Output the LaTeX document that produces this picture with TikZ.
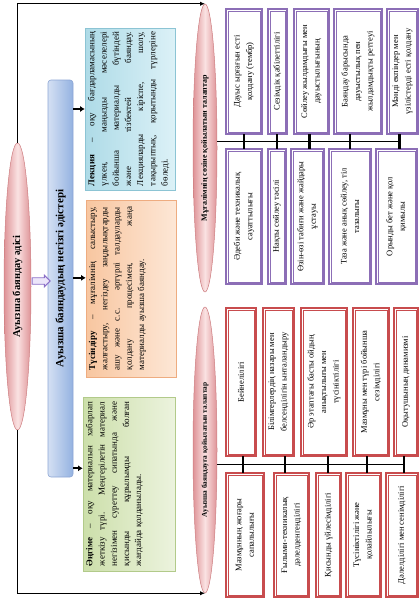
\documentclass[tikz,border=0pt]{standalone}
\usepackage{fontspec}
\usepackage{graphicx}
\setmainfont{Liberation Serif}
\usetikzlibrary{shapes.geometric,shapes.arrows,arrows.meta,calc}
\hyphenpenalty=10000
\exhyphenpenalty=10000
\definecolor{pinkD}{RGB}{222,146,150}
\definecolor{pinkL}{RGB}{250,226,226}
\definecolor{pinkB}{RGB}{205,125,128}
\definecolor{blueL}{RGB}{212,224,243}
\definecolor{blueD}{RGB}{148,178,225}
\definecolor{blueB}{RGB}{140,165,212}
\definecolor{cyanL}{RGB}{220,241,247}
\definecolor{cyanD}{RGB}{174,219,231}
\definecolor{cyanB}{RGB}{140,196,212}
\definecolor{peachL}{RGB}{253,231,214}
\definecolor{peachD}{RGB}{248,198,160}
\definecolor{peachB}{RGB}{238,172,128}
\definecolor{greenL}{RGB}{236,243,222}
\definecolor{greenD}{RGB}{204,223,170}
\definecolor{greenB}{RGB}{178,202,138}
\definecolor{pcol}{RGB}{140,110,182}
\definecolor{rcol}{RGB}{200,76,78}
\definecolor{arrB}{RGB}{140,112,200}
\definecolor{arrF}{RGB}{236,230,250}

% grid box: style, name, x1, y1, x2, y2, text (page pixel coordinates)
\newcommand{\gridbox}[7]{%
  \pgfmathsetmacro{\gbw}{#5-#3-6.2}%
  \pgfmathsetmacro{\gbh}{#6-#4-6.2}%
  \pgfmathsetmacro{\gbt}{#6-#4-12}%
  \node[#1, minimum width=\gbw pt, minimum height=\gbh pt] (#2) at ({(#3+#5)/2},{(#4+#6)/2})
    {\rotatebox{90}{\parbox{\gbt pt}{\centering #7}}};%
}

\tikzset{
  ell/.style={ellipse, draw=pinkB, line width=0.5pt,
    left color=pinkD, right color=pinkD, middle color=pinkL,
    inner sep=0pt},
  descbox/.style={rectangle, line width=0.6pt, inner sep=0pt,
    font=\fontsize{9}{12.2}\selectfont},
  gbase/.style={rectangle, fill=white, line width=0.6pt,
    outer sep=2.2pt, inner sep=1pt,
    font=\fontsize{8.5}{12.5}\selectfont},
  pbox/.style={gbase, draw=pcol},
  rbox/.style={gbase, draw=rcol},
  barr/.style={line width=1.6pt, -{Latex[length=4.5pt,width=6pt]}},
  longarr/.style={line width=1.1pt, -{Latex[length=5pt,width=4.5pt]}},
  bus/.style={line width=1.1pt},
  tick/.style={line width=2.2pt},
}

\begin{document}
\begin{tikzpicture}[x=1pt,y=-1pt]
\useasboundingbox (0,0) rectangle (420,600);

% left part
\node[ell, minimum width=27pt, minimum height=287pt, font=\bfseries\fontsize{10.5}{12}\selectfont] (main) at (17.5,286.5) {\rotatebox{90}{Ауызша баяндау әдісі}};
\node[rectangle, rounded corners=3pt, draw=blueB, line width=0.6pt, left color=blueL, right color=blueD, minimum width=25pt, minimum height=397pt, inner sep=0pt, font=\bfseries\fontsize{11}{13}\selectfont] (bar) at (60.5,278.5) {\rotatebox{90}{Ауызша баяндаудың негізгі әдістері}};
\node[single arrow, draw=arrB, fill=arrF, line width=0.9pt, minimum height=18pt, minimum width=11pt, inner sep=2.8pt, single arrow head extend=2.5pt] (harr) at (39.5,281) {};

\node[descbox, draw=cyanB, left color=cyanD, right color=cyanL, minimum width=90pt, minimum height=162pt] (lek) at (130,109)
 {\rotatebox{90}{\parbox[c][84pt][t]{154pt}{\textbf{Лекция} – оқу бағдарламасының\linebreak үлкен, маңызды мәселелері\linebreak бойынша материалды бүтіндей\linebreak және тізбектей баяндау.\linebreak Лекцияларды кіріспе, шолу,\linebreak тақырыптық, қорытынды түрлеріне\linebreak бөледі.}}};
\node[descbox, draw=peachB, left color=peachD, right color=peachL, minimum width=90pt, minimum height=177pt] (tus) at (131,288.5)
 {\rotatebox{90}{\parbox[c][84pt][t]{163pt}{\textbf{Түсіндіру} – мұғалімнің салыстыру,\linebreak жалғастыру, негіздеу заңдылықтарды\linebreak ашу және с.с. әртүрлі талдауларды\linebreak қолдану процесімен, жаңа\linebreak материалды ауызша баяндау.}}};
\node[descbox, draw=greenB, left color=greenD, right color=greenL, minimum width=92pt, minimum height=174pt] (eng) at (129,484)
 {\rotatebox{90}{\parbox[c][86pt][t]{164pt}{\textbf{Әңгіме} – оқу материалын хабарлап\linebreak жеткізу түрі. Меңгерілетін материал\linebreak негізімен суреттеу сипатында және\linebreak қисынды құрылымды болған\linebreak жағдайда қолданылады.}}};

% right ellipses
\node[ell, minimum width=24pt, minimum height=288pt, font=\bfseries\fontsize{8}{9}\selectfont] (req1) at (205,148) {\rotatebox{90}{Мұғалімнің сөзіне қойылатын талаптар}};
\node[ell, minimum width=24pt, minimum height=286pt, font=\bfseries\fontsize{7.3}{9}\selectfont] (req2) at (205,450) {\rotatebox{90}{Ауызша баяндауға қойылатын талаптар}};

% upper grid
\gridbox{pbox}{P1}{225}{8}{263}{135}{Дауыс ырғағын есті\\қолдану (тембр)}
\gridbox{pbox}{P2}{267}{8}{288}{135}{Сезімдік қабілеттілігі}
\gridbox{pbox}{P3}{293}{8}{330}{135}{Сөйлеу жылдамдығы мен\\дауыстылығының}
\gridbox{pbox}{P4}{333}{8}{383}{135}{Баяндау барысында\\дауыстылық пен\\жылдамдықты реттеуі}
\gridbox{pbox}{P5}{386}{8}{419}{135}{Мәнді екпіндер мен\\үзілістерді есті қолдану}
\gridbox{pbox}{Q1}{225}{148}{263}{285}{Әдеби және техникалық\\сауаттылығы}
\gridbox{pbox}{Q2}{267}{148}{287}{285}{Нақты сөйлеу тәсілі}
\gridbox{pbox}{Q3}{290}{148}{325}{285}{Өзін-өзі табиғи және жайдары\\ұстауы}
\gridbox{pbox}{Q4}{328}{148}{372}{285}{Таза және анық сөйлеу, тіл\\тазалығы}
\gridbox{pbox}{Q5}{375}{148}{418}{285}{Орынды бет және қол\\қимылы}

% lower grid
\gridbox{rbox}{R1}{225}{307}{257}{457}{Бейнелілігі}
\gridbox{rbox}{R2}{262}{307}{295}{457}{Білімгерлердің назары мен\\белсенділігін ынталандыру}
\gridbox{rbox}{R3}{300}{307}{348}{457}{Әр этаптағы басты ойдың\\анықтылығы мен\\түсініктілігі}
\gridbox{rbox}{R4}{352}{307}{390}{457}{Мазмұны мен түрі бойынша\\сезімділігі}
\gridbox{rbox}{R5}{393}{307}{419}{457}{Оқытушының динамизмі}
\gridbox{rbox}{S1}{225}{472}{265}{598}{Мазмұнның жоғары\\сапалылығы}
\gridbox{rbox}{S2}{273}{472}{310}{598}{Ғылыми-техникалық\\дәлелденгенділігі}
\gridbox{rbox}{S3}{315}{472}{342}{598}{Қисынды үйлесімділігі}
\gridbox{rbox}{S4}{345}{472}{382}{598}{Түсініктілігі және\\қолайлылығы}
\gridbox{rbox}{S5}{385}{472}{419}{598}{Дәлелділігі мен сенімділігі}

% outer frames
\foreach \n in {P1,P2,P3,P4,P5,Q1,Q2,Q3,Q4,Q5}
  \draw[pcol, line width=1.8pt] (\n.north west) rectangle (\n.south east);
\foreach \n in {R1,R2,R3,R4,R5,S1,S2,S3,S4,S5}
  \draw[rcol, line width=1.8pt] (\n.north west) rectangle (\n.south east);

% buses and ticks
\foreach \i/\f in {1/.5,2/.5,3/.5,4/1,5/.5}
  \coordinate (mu\i) at ($(P\i.south)!\f!(Q\i.north)$);
\coordinate (ubus) at ($(P1.south)!.5!(Q1.north)$);
\draw[bus] (req1.east |- ubus) -- (mu5 |- ubus);
\foreach \i in {1,...,5}
  \draw[tick] (mu\i |- P\i.south) -- (mu\i |- Q\i.north);

\foreach \i/\f in {1/.5,2/.5,3/.8,4/.5,5/.5}
  \coordinate (ml\i) at ($(R\i.south)!\f!(S\i.north)$);
\coordinate (lbus) at ($(R1.south)!.5!(S1.north)$);
\draw[bus] (req2.east |- lbus) -- (ml5 |- lbus);
\foreach \i in {1,...,5}
  \draw[tick] (ml\i |- R\i.south) -- (ml\i |- S\i.north);

% long arrows
\draw[longarr] (main.north) |- (req1.north);
\draw[longarr] (main.south) |- (req2.south);

% bar arrows
\draw[barr] (bar.east |- lek.west) -- (lek.west);
\coordinate (tusA) at ($(tus.west)!.12!(tus.north west)$);
\draw[barr] (bar.east |- tusA) -- (tusA);
\coordinate (engA) at ($(eng.west)!.18!(eng.north west)$);
\draw[barr] (bar.east |- engA) -- (engA);
\end{tikzpicture}
\end{document}
